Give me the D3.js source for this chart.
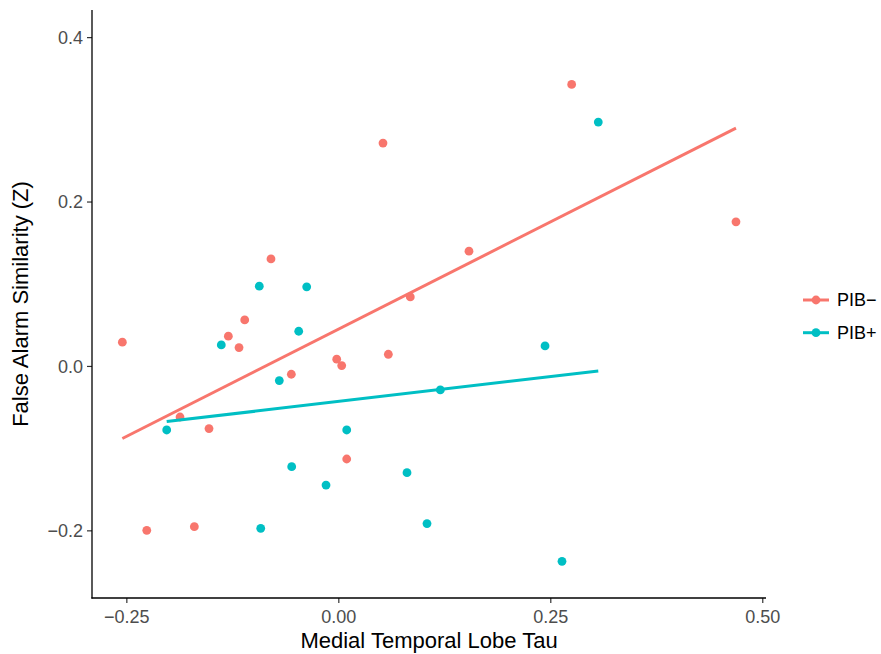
<!DOCTYPE html>
<html>
<head>
<meta charset="utf-8">
<script src="https://cdn.jsdelivr.net/npm/d3@7"></script>
<style>
  body { margin: 0; background: #fff; }
  text { font-family: "Liberation Sans", Arial, Helvetica, sans-serif; }
</style>
</head>
<body>
<svg id="render" width="881" height="654"></svg>
<script>
// tau vs false alarm similarity, one array pair per group
let pibNegTau = [-0.2547, -0.2259, -0.1867, -0.1698, -0.1525, -0.1297, -0.1171, -0.1104, -0.0794, -0.0554,
  -0.0019, 0.0040, 0.0099, 0.0527, 0.0590, 0.0849, 0.1541, 0.2752, 0.4690];
let pibNegFA = [0.0289, -0.2000, -0.0621, -0.1955, -0.0762, 0.0362, 0.0224, 0.0560, 0.1302, -0.0101,
  0.0082, 0.0005, -0.1132, 0.2711, 0.0142, 0.0840, 0.1396, 0.3425, 0.1753];
let pibPosTau = [-0.2024, -0.1380, -0.0932, -0.0915, -0.0696, -0.0550, -0.0467, -0.0373, -0.0145, 0.0099,
  0.0810, 0.1046, 0.1203, 0.2438, 0.2638, 0.3066];
let pibPosFA = [-0.0779, 0.0256, 0.0970, -0.1976, -0.0178, -0.1225, 0.0422, 0.0962, -0.1449, -0.0779,
  -0.1298, -0.1918, -0.0292, 0.0243, -0.2377, 0.2967];

let groups = ['PIB\u2212', 'PIB+'];
let colors = ['#F8766D', '#00BFC4'];
let xTicks = [-0.25, 0, 0.25, 0.5];
let xTickLabels = ['\u22120.25', '0.00', '0.25', '0.50'];
let yTicks = [-0.2, 0, 0.2, 0.4];
let yTickLabels = ['\u22120.2', '0.0', '0.2', '0.4'];

let series = [
  {name: groups[0], color: colors[0], pts: pibNegTau.map((t, i) => ({x: t, y: pibNegFA[i]}))},
  {name: groups[1], color: colors[1], pts: pibPosTau.map((t, i) => ({x: t, y: pibPosFA[i]}))}
];

// plain least squares, like geom_smooth(method = lm, se = FALSE)
function fit(pts) {
  let mx = d3.mean(pts, d => d.x), my = d3.mean(pts, d => d.y);
  let sxy = d3.sum(pts, d => (d.x - mx) * (d.y - my));
  let sxx = d3.sum(pts, d => (d.x - mx) ** 2);
  let b = sxy / sxx, a = my - b * mx;
  let ext = d3.extent(pts, d => d.x);
  return ext.map(x => ({x: x, y: a + b * x}));
}

let svg = d3.select('#render');
let panel = {left: 92, right: 766, top: 10, bottom: 598};

let x = d3.scaleLinear().domain([-0.2905, 0.5044]).range([panel.left, panel.right]);
let y = d3.scaleLinear().domain([-0.2823, 0.4330]).range([panel.bottom, panel.top]);

let marks = svg.append('g');

let line = d3.line().x(d => x(d.x)).y(d => y(d.y));

series.forEach(s => {
  marks.selectAll(null)
    .data(s.pts)
    .join('circle')
    .attr('cx', d => x(d.x))
    .attr('cy', d => y(d.y))
    .attr('r', 4.4)
    .style('fill', s.color);
});

series.forEach(s => {
  marks.append('path')
    .attr('d', line(fit(s.pts)))
    .style('fill', 'none')
    .style('stroke', s.color)
    .style('stroke-width', 3);
});

// axes
let xAxis = svg.append('g')
  .attr('transform', `translate(0,${panel.bottom})`)
  .call(d3.axisBottom(x).tickValues(xTicks).tickSize(5).tickPadding(4)
    .tickFormat((d, i) => xTickLabels[i]));
let yAxis = svg.append('g')
  .attr('transform', `translate(${panel.left},0)`)
  .call(d3.axisLeft(y).tickValues(yTicks).tickSize(5).tickPadding(4)
    .tickFormat((d, i) => yTickLabels[i]));

[xAxis, yAxis].forEach(ax => {
  ax.select('.domain').remove();
  ax.selectAll('.tick line').style('stroke', '#333').style('stroke-width', 1.2);
  ax.selectAll('.tick text').style('font-size', '18px').style('fill', '#4d4d4d');
});
xAxis.selectAll('.tick text').attr('dy', '0.9em');
yAxis.selectAll('.tick text').attr('dy', '0.35em');

svg.append('line')
  .attr('x1', panel.left).attr('x2', panel.left)
  .attr('y1', panel.top).attr('y2', panel.bottom + 0.6)
  .style('stroke', '#000').style('stroke-width', 1.3);
svg.append('line')
  .attr('x1', panel.left - 0.6).attr('x2', panel.right)
  .attr('y1', panel.bottom).attr('y2', panel.bottom)
  .style('stroke', '#000').style('stroke-width', 1.3);

svg.append('text')
  .attr('x', (panel.left + panel.right) / 2)
  .attr('y', 648)
  .attr('text-anchor', 'middle')
  .style('font-size', '22px')
  .text('Medial Temporal Lobe Tau');

svg.append('text')
  .attr('transform', `translate(28,${(panel.top + panel.bottom) / 2}) rotate(-90)`)
  .attr('text-anchor', 'middle')
  .style('font-size', '22px')
  .text('False Alarm Similarity (Z)');

// legend
let legend = svg.append('g').attr('transform', 'translate(803,300)');
let keys = legend.selectAll('g')
  .data(series)
  .join('g')
  .attr('transform', (d, i) => `translate(0,${i * 32.7})`);
keys.append('line')
  .attr('x1', 0).attr('x2', 26)
  .style('stroke', d => d.color).style('stroke-width', 3);
keys.append('circle')
  .attr('cx', 13).attr('r', 4.4)
  .style('fill', d => d.color);
keys.append('text')
  .attr('x', 34).attr('dy', '0.36em')
  .style('font-size', '18px')
  .text(d => d.name);
</script>
</body>
</html>
